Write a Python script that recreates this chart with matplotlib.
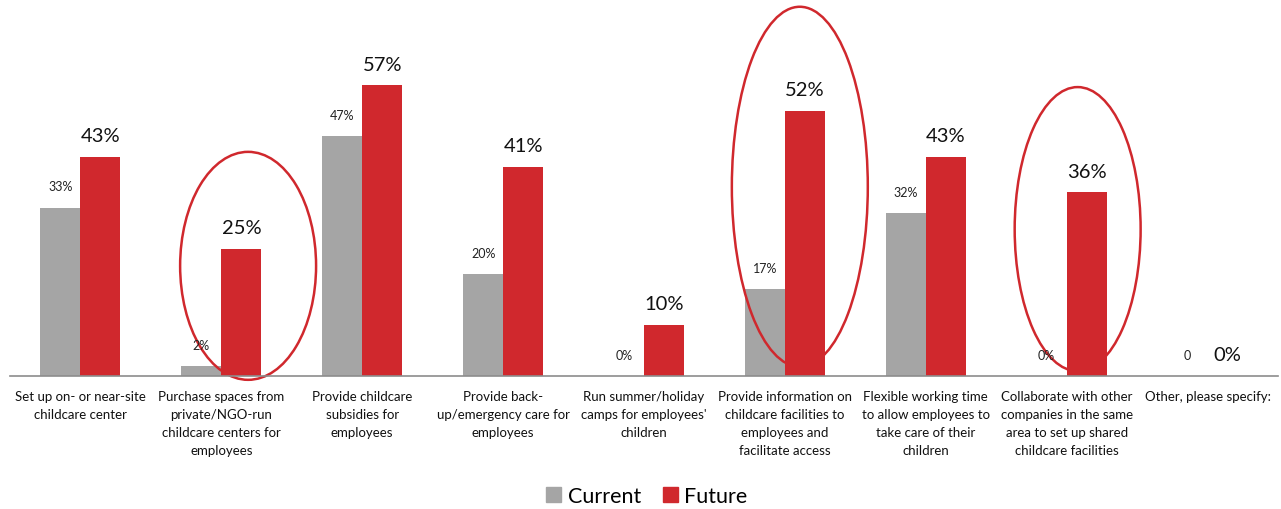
import matplotlib.pyplot as plt
import numpy as np
from matplotlib.patches import Ellipse, Patch

plt.rcParams['font.family'] = ['Lato', 'DejaVu Sans']

categories = [
    "Set up on- or near-site\nchildcare center",
    "Purchase spaces from\nprivate/NGO-run\nchildcare centers for\nemployees",
    "Provide childcare\nsubsidies for\nemployees",
    "Provide back-\nup/emergency care for\nemployees",
    "Run summer/holiday\ncamps for employees'\nchildren",
    "Provide information on\nchildcare facilities to\nemployees and\nfacilitate access",
    "Flexible working time\nto allow employees to\ntake care of their\nchildren",
    "Collaborate with other\ncompanies in the same\narea to set up shared\nchildcare facilities",
    "Other, please specify:",
]
current = [33, 2, 47, 20, 0, 17, 32, 0, 0]
future = [43, 25, 57, 41, 10, 52, 43, 36, 0]
current_labels = ["33%", "2%", "47%", "20%", "0%", "17%", "32%", "0%", "0"]
future_labels = ["43%", "25%", "57%", "41%", "10%", "52%", "43%", "36%", "0%"]

# highlighted groups: (category position, centre value, width, height)
highlights = [(1.19, 21.6, 0.965, 44.7), (5.106, 37.1, 0.965, 70.6), (7.078, 28.8, 0.894, 55.7)]

GRAY = "#A5A5A5"
RED = "#D0282D"

fig = plt.figure(figsize=(12.81, 5.10), dpi=100)
ax = fig.add_axes([10 / 1281, 133 / 510, 1268 / 1281, 377 / 510])

x = np.arange(len(categories))
w = 0.284
ax.bar(x - w / 2, current, w, color=GRAY)
ax.bar(x + w / 2, future, w, color=RED)

for i in x:
    ax.annotate(current_labels[i], (i - w / 2, current[i]), xytext=(0, 11),
                textcoords="offset points", ha="center", va="bottom",
                fontsize=9, color="#222222")
    ax.annotate(future_labels[i], (i + w / 2, future[i]), xytext=(0, 9),
                textcoords="offset points", ha="center", va="bottom",
                fontsize=14.5, color="#111111")

for cx, cy, ew, eh in highlights:
    ax.add_patch(Ellipse((cx, cy), ew, eh, fill=False, edgecolor=RED,
                         linewidth=1.8, clip_on=False))

ax.set_xlim(-0.5, len(categories) - 0.5)
ax.set_ylim(0, 377 / 5.1)
ax.set_xticks(x)
ax.set_xticklabels(categories, fontsize=9.5, color="#111111", linespacing=1.6)
ax.tick_params(axis="x", length=0, pad=10)
ax.set_yticks([])
for side in ["top", "left", "right"]:
    ax.spines[side].set_visible(False)
ax.spines["bottom"].set_color("#8C8C8C")
ax.spines["bottom"].set_linewidth(1.2)

handles = [Patch(color=GRAY, label="Current"), Patch(color=RED, label="Future")]
fig.legend(handles=handles, loc="center", bbox_to_anchor=(0.505, 0.025), ncol=2,
           frameon=False, fontsize=15.5, handlelength=0.7, handleheight=0.7,
           handletextpad=0.3, columnspacing=1.0)

fig.savefig("out.png", dpi=100)
